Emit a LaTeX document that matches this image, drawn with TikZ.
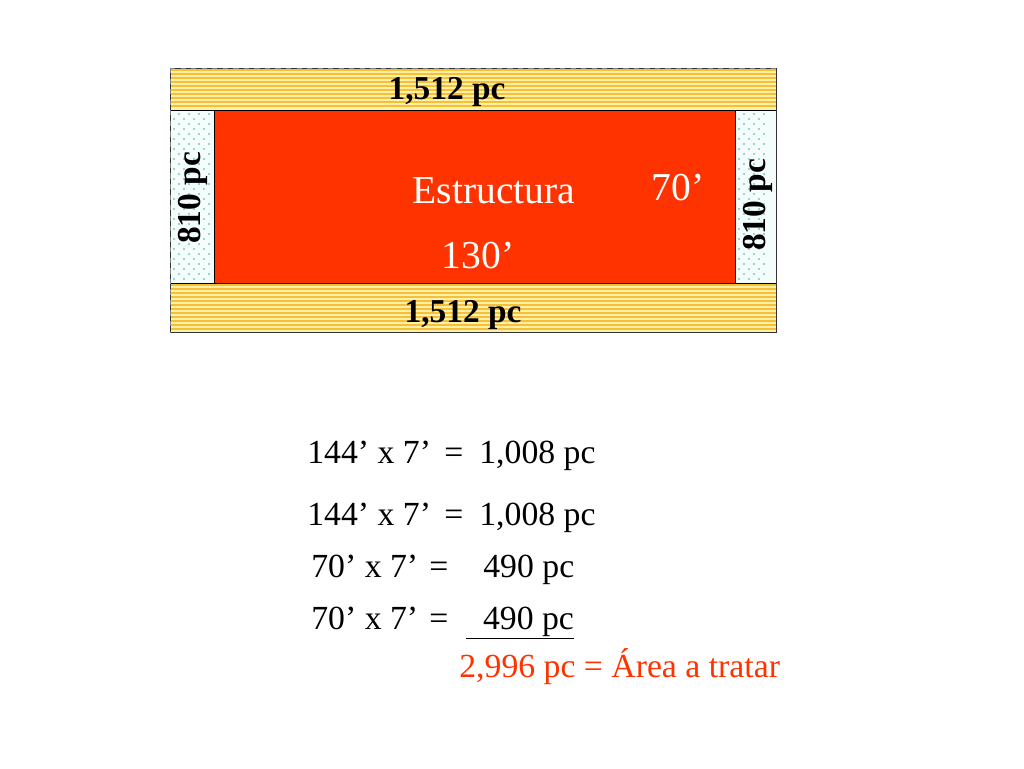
\documentclass[tikz,border=0pt]{standalone}
\usepackage{fontspec}
\setmainfont{Liberation Serif}
\definecolor{brick}{HTML}{FF3300}
\definecolor{straw}{HTML}{FFF0A8}
\definecolor{strawline}{HTML}{F5C038}
\definecolor{frost}{HTML}{F4FCFC}
\definecolor{dotteal}{HTML}{3AAE9C}
\tikzset{
    strip-label/.style = {font=\fontsize{19}{22}\selectfont\bfseries, anchor=base},
    side-label/.style = {font=\fontsize{19}{22}\selectfont\bfseries, rotate=90},
    plan-label/.style = {text=white, font=\fontsize{22.5}{26}\selectfont, anchor=base},
    sum-text/.style = {font=\fontsize{19.2}{23}\selectfont, inner sep=0pt, anchor=base west},
}

\begin{document}
\begin{tikzpicture}[x=0.02cm, y=-0.02cm]
\useasboundingbox (0,0) rectangle (1024,768);
% yellow strips
\fill[straw] (170,68) rectangle (776,110);
\fill[straw] (170,283) rectangle (776,332);
\foreach \y in {70,74,...,108} \draw[strawline, line width=1.1pt] (170,\y) -- (776,\y);
\foreach \y in {285,289,...,331} \draw[strawline, line width=1.1pt] (170,\y) -- (776,\y);
% dotted sides
\fill[frost] (170,110) rectangle (214,283);
\fill[frost] (735,110) rectangle (776,283);
\foreach \y [count=\i] in {114,119,...,280} {
    \pgfmathsetmacro{\off}{mod(\i,2)*5}
    \foreach \x in {174,184,...,204} \fill[dotteal] (\x+\off,\y) circle (0.8);
    \foreach \x in {739,749,...,764} \fill[dotteal] (\x+\off,\y) circle (0.8);
}
% structure
\fill[brick] (214,110) rectangle (735,283);
\draw[black, thin] (170,110) rectangle (776,283);
\draw[black, thin] (214,110) -- (214,283) (735,110) -- (735,283);
\draw[black!80, thin] (170,68) rectangle (776,332);
\draw[gray, dashed, thin] (170,68) -- (776,68) (170,68) -- (170,332);

\node[strip-label] (top) at (447,99) {1,512 pc};
\node[strip-label] (bottom) at (463,322) {1,512 pc};
\node[side-label] (left) at (193,198) {810 pc};
\node[side-label] (right) at (758,205) {810 pc};
\node[plan-label] (name) at (494,203) {Estructura};
\node[plan-label] (width) at (678,200) {70’};
\node[plan-label] (length) at (478,268) {130’};

% sums
\node[sum-text] (a1) at (307,463) {144’ x 7’};
\node[sum-text, anchor=base] (e1) at (454,463) {=};
\node[sum-text] (r1) at (479,463) {1,008 pc};
\node[sum-text] (a2) at (307,525) {144’ x 7’};
\node[sum-text, anchor=base] (e2) at (454,525) {=};
\node[sum-text] (r2) at (479,525) {1,008 pc};
\node[sum-text] (a3) at (311,577) {70’ x 7’};
\node[sum-text, anchor=base] (e3) at (439,577) {=};
\node[sum-text] (r3) at (483,577) {490 pc};
\node[sum-text] (a4) at (311,629) {70’ x 7’};
\node[sum-text, anchor=base] (e4) at (439,629) {=};
\node[sum-text] (r4) at (466,629) {\underline{\hspace{9.5pt}490 pc}};
\node[sum-text, text=brick] (total) at (459,677) {2,996 pc = Área a tratar};
\end{tikzpicture}
\end{document}
